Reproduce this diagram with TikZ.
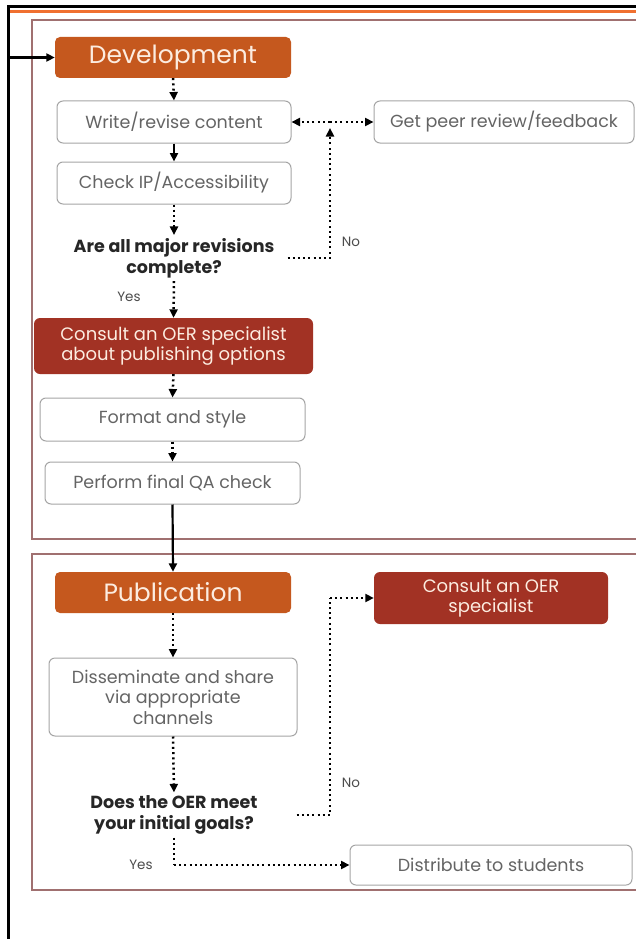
\documentclass[tikz,border=0pt]{standalone}
\usepackage{fontspec}
\setmainfont{Poppins}
\usetikzlibrary{arrows.meta}
\definecolor{devor}{RGB}{197,88,30}
\definecolor{oerred}{RGB}{162,50,36}
\definecolor{panelc}{RGB}{160,112,112}
\definecolor{boxline}{RGB}{165,165,165}
\definecolor{txtgray}{RGB}{100,100,100}
\definecolor{topor}{RGB}{240,112,48}
\definecolor{cream}{RGB}{252,236,224}
\begin{document}
\begin{tikzpicture}[x=1pt,y=-1pt,
  whitebox/.style={draw=boxline, line width=1pt, rounded corners=6pt, fill=white, text=txtgray,
    font=\fontsize{17.5}{20.5}\selectfont, align=center, inner sep=0pt},
  phasebox/.style={draw=none, rounded corners=5pt, fill=devor, text=cream,
    font=\fontsize{25}{28}\selectfont, align=center, inner sep=0pt},
  oerbox/.style={draw=none, rounded corners=6pt, fill=oerred, text=cream,
    font=\fontsize{18}{20.5}\selectfont, align=center, inner sep=0pt},
  question/.style={font=\bfseries\fontsize{17.5}{21}\selectfont, align=center, text=black!85, inner sep=3pt},
  answer/.style={font=\fontsize{13.5}{15}\selectfont, text=black!70, inner sep=0pt},
  dotline/.style={line width=2.5pt, dash pattern=on 2pt off 3.2pt, black},
  dotarrow/.style={dotline, -{Triangle[length=8.5pt,width=8pt]}},
  solidarrow/.style={line width=2.2pt, black, -{Triangle[length=8.5pt,width=8pt]}},
  panelline/.style={draw=panelc, line width=1.6pt}
]
\useasboundingbox (0,0) rectangle (636,939);
\fill[white] (0,0) rectangle (636,939);

% frame
\draw[black, line width=3pt] (8,939) -- (8,7) -- (636,7);
\draw[topor, line width=3.4pt] (10,11.5) -- (636,11.5);

% panels
\draw[panelline] (636,20) -- (32,20) -- (32,539) -- (636,539);
\draw[panelline] (636,554) -- (32,554) -- (32,890) -- (636,890);

% nodes, development
\node[phasebox, minimum width=236pt, minimum height=41pt] (dev) at (173,57.5) {Development};
\node[whitebox, minimum width=234pt, minimum height=42pt] (write) at (174,122) {Write/revise content};
\node[whitebox, minimum width=260pt, minimum height=42pt] (peer) at (504,122) {Get peer review/feedback};
\node[whitebox, minimum width=234pt, minimum height=42pt] (check) at (174,183) {Check IP/Accessibility};
\node[question] (q1) at (174,258) {Are all major revisions\\complete?};
\node[oerbox, minimum width=279pt, minimum height=56pt] (c1) at (173.5,346) {Consult an OER specialist\\about publishing options};
\node[whitebox, minimum width=265pt, minimum height=43pt] (fmt) at (172.5,419.5) {Format and style};
\node[whitebox, minimum width=255pt, minimum height=42pt] (qa) at (172.5,483) {Perform final QA check};

% nodes, publication
\node[phasebox, minimum width=236pt, minimum height=41pt] (pub) at (173,592.5) {Publication};
\node[oerbox, minimum width=234pt, minimum height=52pt] (c2) at (491,598) {Consult an OER\\specialist};
\node[whitebox, minimum width=248pt, minimum height=78pt] (diss) at (173,697) {Disseminate and share\\via appropriate\\channels};
\node[question] (q2) at (174,815) {Does the OER meet\\your initial goals?};
\node[whitebox, minimum width=282pt, minimum height=40pt] (dist) at (491,865) {Distribute to students};

% labels
\node[answer] (no1) at (351,242) {No};
\node[answer] (yes1) at (129,297) {Yes};
\node[answer] (no2) at (351,783) {No};
\node[answer] (yes2) at (141,865) {Yes};

% coordinates
\coordinate (entry) at (8,57.5);
\coordinate (n1) at (330,122);
\coordinate (n1b) at (330,128);
\coordinate (n2) at (330,598);
\coordinate (y2) at (174,865);

% connectors
\draw[solidarrow] (entry) -- (dev.west);
\draw[dotarrow] (dev.south) -- (write.north);
\draw[solidarrow] (write.south) -- (check.north);
\draw[dotarrow] (check.south) -- (q1.north);
\draw[dotarrow] ([xshift=10pt]q1.east) -| (n1b);
\draw[dotarrow] (n1) -- (write.east);
\draw[dotarrow] (n1) -- (peer.west);
\draw[dotarrow] (q1.south) -- (c1.north);
\draw[dotarrow] (c1.south) -- (fmt.north);
\draw[dotarrow] (fmt.south) -- (qa.north);
\draw[solidarrow] (qa.south) -- (pub.north);

\draw[dotarrow] (pub.south) -- (diss.north);
\draw[dotarrow] (diss.south) -- (q2.north);
\draw[dotline] ([xshift=36pt]q2.east) -| (n2);
\draw[dotarrow] (n2) -- (c2.west);
\draw[dotline] (q2.south) -- (y2);
\draw[dotarrow] (y2) -- (dist.west);
\end{tikzpicture}
\end{document}
